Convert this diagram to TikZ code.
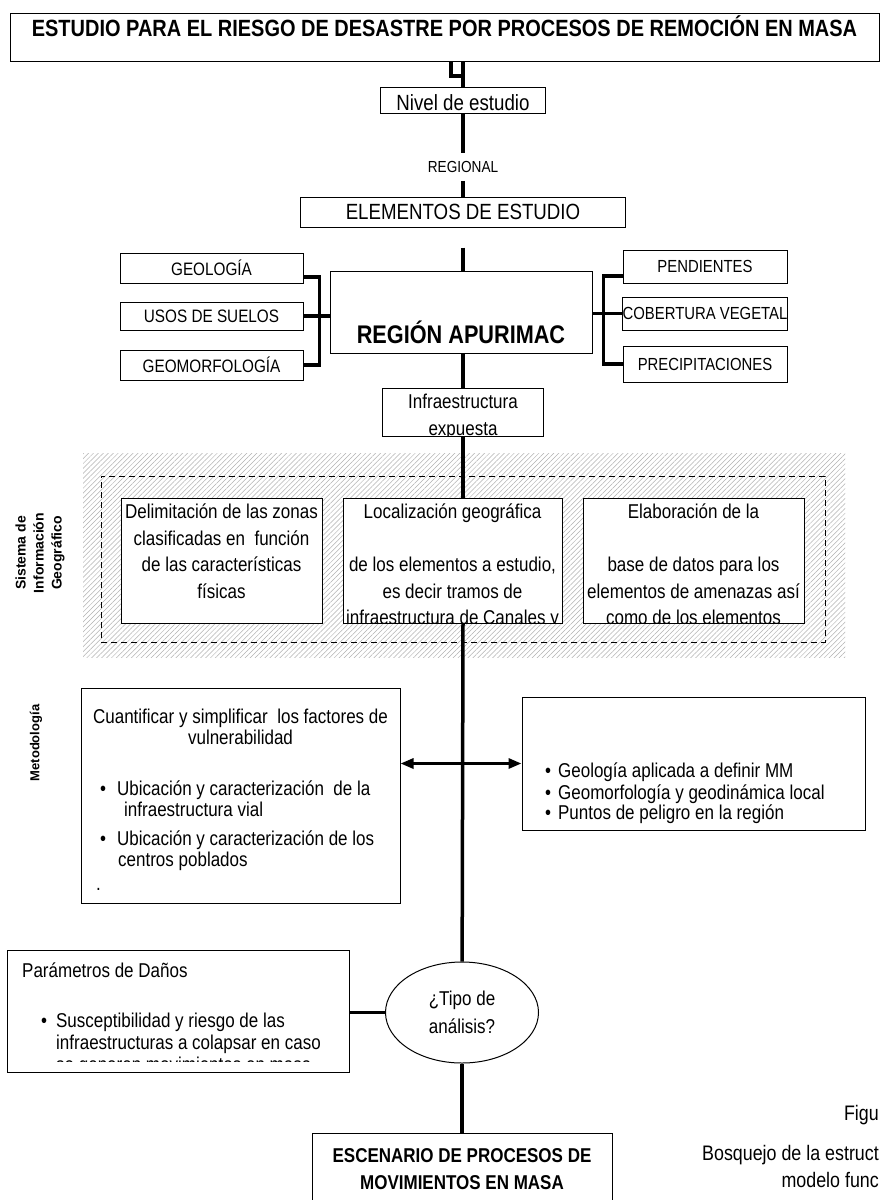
\documentclass[tikz,border=0pt]{standalone}
\usepackage{fontspec}
\setmainfont{Liberation Sans}[FakeStretch=0.85]
\newfontfamily\ancha{Liberation Sans}
\usetikzlibrary{arrows.meta,patterns.meta,shapes.geometric,positioning}

\tikzset{
  caja/.style={draw, fill=white, line width=1pt, inner sep=0pt},
  linea/.style={line width=3.5pt},
  doble/.style={line width=3pt, {Triangle[length=13pt,width=10pt]}-{Triangle[length=13pt,width=10pt]}},
  primera/.style={inner sep=0pt},
}

\begin{document}
\begin{tikzpicture}[x=1pt, y=-1pt,
    izq/.style = {caja, minimum width=183, font={\fontsize{18}{21}\selectfont}},
    der/.style = {caja, minimum width=164, font={\fontsize{17.5}{21}\selectfont}},
    gis/.style = {primera, anchor=north, align=center, font={\fontsize{20}{26.5}\selectfont}},
    lista/.style = {primera, anchor=north west, align=left, font={\fontsize{20}{21}\selectfont}},
    suelto/.style = {anchor=base west, inner sep=0pt, font={\fontsize{20}{22}\selectfont}},
    pie/.style = {anchor=base east, inner sep=0pt, font={\fontsize{21}{24}\selectfont}}]
\fill[white] (0,0) rectangle (880,1200);
\useasboundingbox (0,0) rectangle (880,1200);

% titulo
\node[caja, minimum width=869, minimum height=48, text height=17pt, text depth=18pt,
  font={\bfseries\fontsize{23.5}{27}\selectfont}] (titulo) at (444.5,37)
  {ESTUDIO PARA EL RIESGO DE DESASTRE POR PROCESOS DE REMOCIÓN EN MASA};
\node[caja, minimum width=165, minimum height=26, text height=21pt, text depth=0pt,
  font={\fontsize{22}{25}\selectfont}] (nivel) at (463,100) {Nivel de estudio};
\node[inner sep=8pt, font={\fontsize{16}{18}\selectfont}] (regional) at (463,167) {REGIONAL};
\node[caja, minimum width=325, minimum height=30, font={\fontsize{22}{25}\selectfont}]
  (elementos) at (463,212) {ELEMENTOS DE ESTUDIO};

% region
\node[caja, minimum width=262, minimum height=82, text height=62.4pt, text depth=0pt,
  font={\bfseries\fontsize{25.5}{29}\selectfont}] (region) at (461,312) {REGIÓN APURIMAC};
\node[izq, minimum height=30] (geologia) at (211.5,268) {GEOLOGÍA};
\node[izq, minimum height=28] (usos) at (211.5,316) {USOS DE SUELOS};
\node[izq, minimum height=30] (geomorf) at (211.5,365) {GEOMORFOLOGÍA};
\node[der, minimum height=33] (pendientes) at (705,266.5) {PENDIENTES};
\node[der, minimum height=33] (cobertura) at (705,313.5) {COBERTURA VEGETAL};
\node[der, minimum height=36] (precip) at (705,364) {PRECIPITACIONES};

% infraestructura
\node[caja, minimum width=161, minimum height=48] (infra) at (463,412) {};
\begin{scope}
  \clip (infra.north west) rectangle (infra.south east);
  \node[primera, anchor=north, align=center, font={\fontsize{20}{27}\selectfont}]
    (infratxt) at ([yshift=-2pt]infra.north) {\strut Infraestructura\\expuesta};
\end{scope}

% sistema de informacion geografico
\node[minimum width=762, minimum height=204, inner sep=0pt,
  pattern={Lines[angle=45,distance=3.5pt,line width=0.5pt]}, pattern color=gray!60] (sig) at (464,555) {};
\node[draw, dashed, dash pattern=on 6pt off 4pt, line width=1pt, minimum width=724, minimum height=166,
  inner sep=0pt] (marco) at (463,559) {};
\node[rotate=90, align=center, font={\ancha\bfseries\fontsize{14}{18}\selectfont}] (sigtxt) at (40,553)
  {Sistema de\\Información\\Geográfico};
\node[caja, minimum width=201, minimum height=125] (gis1) at (221.5,560.5) {};
\node[caja, minimum width=219, minimum height=125] (gis2) at (452.5,560.5) {};
\node[caja, minimum width=221, minimum height=125] (gis3) at (693.5,560.5) {};
\begin{scope}
  \clip (gis1.north west) rectangle (gis1.south east);
  \node[gis] (gis1txt) at ([yshift=-2.5pt]gis1.north)
    {\strut Delimitación de las zonas\\clasificadas en\ \ función\\de las características\\físicas};
\end{scope}
\begin{scope}
  \clip (gis2.north west) rectangle (gis2.south east);
  \node[gis] (gis2txt) at ([yshift=-2.5pt]gis2.north)
    {\strut Localización geográfica\\[26.5pt]de los elementos a estudio,\\es decir tramos de\\infraestructura de Canales y};
\end{scope}
\begin{scope}
  \clip (gis3.north west) rectangle (gis3.south east);
  \node[gis] (gis3txt) at ([yshift=-2.5pt]gis3.north)
    {\strut Elaboración de la\\[26.5pt]base de datos para los\\elementos de amenazas así\\como de los elementos};
\end{scope}

% metodologia
\node[rotate=90, font={\ancha\bfseries\fontsize{13}{15}\selectfont}] (metodotxt) at (36,743) {Metodología};
\node[caja, minimum width=319, minimum height=215] (metodo) at (240.5,795.5) {};
\node[primera, anchor=north, align=center, font={\fontsize{20}{21}\selectfont}] (metodotit) at (240.5,708.3)
  {\strut Cuantificar y simplificar\ \ los factores de\\vulnerabilidad};
\node[lista] (metodolista) at (100,780.3)
  {\strut\textbullet\hspace{11pt}Ubicación y caracterización\ \ de la\\\hspace*{24pt}infraestructura vial\\[8pt]%
   \textbullet\hspace{11pt}Ubicación y caracterización de los\\\hspace*{18pt}centros poblados};
\node[suelto] (punto) at (96,890) {.};
\node[caja, minimum width=343, minimum height=133] (derecha) at (693.5,763.5) {};
\node[lista, font={\fontsize{20}{20.5}\selectfont}] (derechatxt) at (545,762.6)
  {\strut\textbullet\hspace{7pt}Geología aplicada a definir MM\\\textbullet\hspace{7pt}Geomorfología y geodinámica local\\%
   \textbullet\hspace{7pt}Puntos de peligro en la región};

% analisis
\node[draw, ellipse, line width=1pt, minimum width=153, minimum height=101, inner sep=0pt, align=center,
  font={\fontsize{20}{28}\selectfont}] (elipse) at (462,1012.5) {¿Tipo de\\análisis?};
\node[caja, minimum width=342, minimum height=122] (danos) at (178,1011) {};
\node[suelto] (danostit) at (22,977) {Parámetros de Daños};
\begin{scope}
  \clip (danos.north west) rectangle ([yshift=11.5pt]danos.south east);
  \node[lista, font={\fontsize{20}{22}\selectfont}] (danoslista) at (41,1011.6)
    {\strut\textbullet\hspace{9pt}Susceptibilidad y riesgo de las\\\hspace*{15pt}infraestructuras a colapsar en caso\\%
     \hspace*{15pt}se generen movimientos en masa};
\end{scope}

% escenario
\node[caja, minimum width=300, minimum height=90] (escenario) at (462,1178) {};
\node[primera, anchor=north, align=center, font={\bfseries\fontsize{20}{27}\selectfont}] (escenariotxt)
  at (462,1143.1) {\strut ESCENARIO DE PROCESOS DE\\MOVIMIENTOS EN MASA};
\node[pie] (figu) at (879,1120) {Figu};
\node[pie] (bosquejo) at (879,1160) {Bosquejo de la estruct};
\node[pie] (modelo) at (879,1187) {modelo func};

% conectores
\coordinate (gancho) at (451,61);
\coordinate (codo) at (463,76);
\draw[linea] (gancho) |- (codo);
\draw[linea] (titulo.south -| nivel.north) -- (nivel.north);
\draw[linea] (nivel) -- (regional);
\draw[linea] (regional) -- (elementos);
\draw[linea, shorten <=20pt] (elementos) -- (elementos |- region.north);
\draw[linea] ([yshift=-9pt]geologia.east) -- ++(16,0) |- (geomorf.east);
\draw[linea] (usos.east) -- (region.west |- usos.east);
\draw[linea] ([yshift=-9.5pt]pendientes.west) -- ++(-19,0) |- (precip.west);
\draw[linea] (cobertura.west) -- (region.east |- cobertura.west);
\draw[linea] (region.south -| infra) -- (infra);
\draw[linea] (infra) -- (infra |- gis2.north);
\draw[linea] (gis2.south -| infra) -- (elipse);
\draw[doble] (metodo.east |- derecha.west) -- (derecha.west);
\draw[linea] (danos.east |- elipse.west) -- (elipse.west);
\draw[linea] (elipse) -- (escenario);
\end{tikzpicture}
\end{document}
